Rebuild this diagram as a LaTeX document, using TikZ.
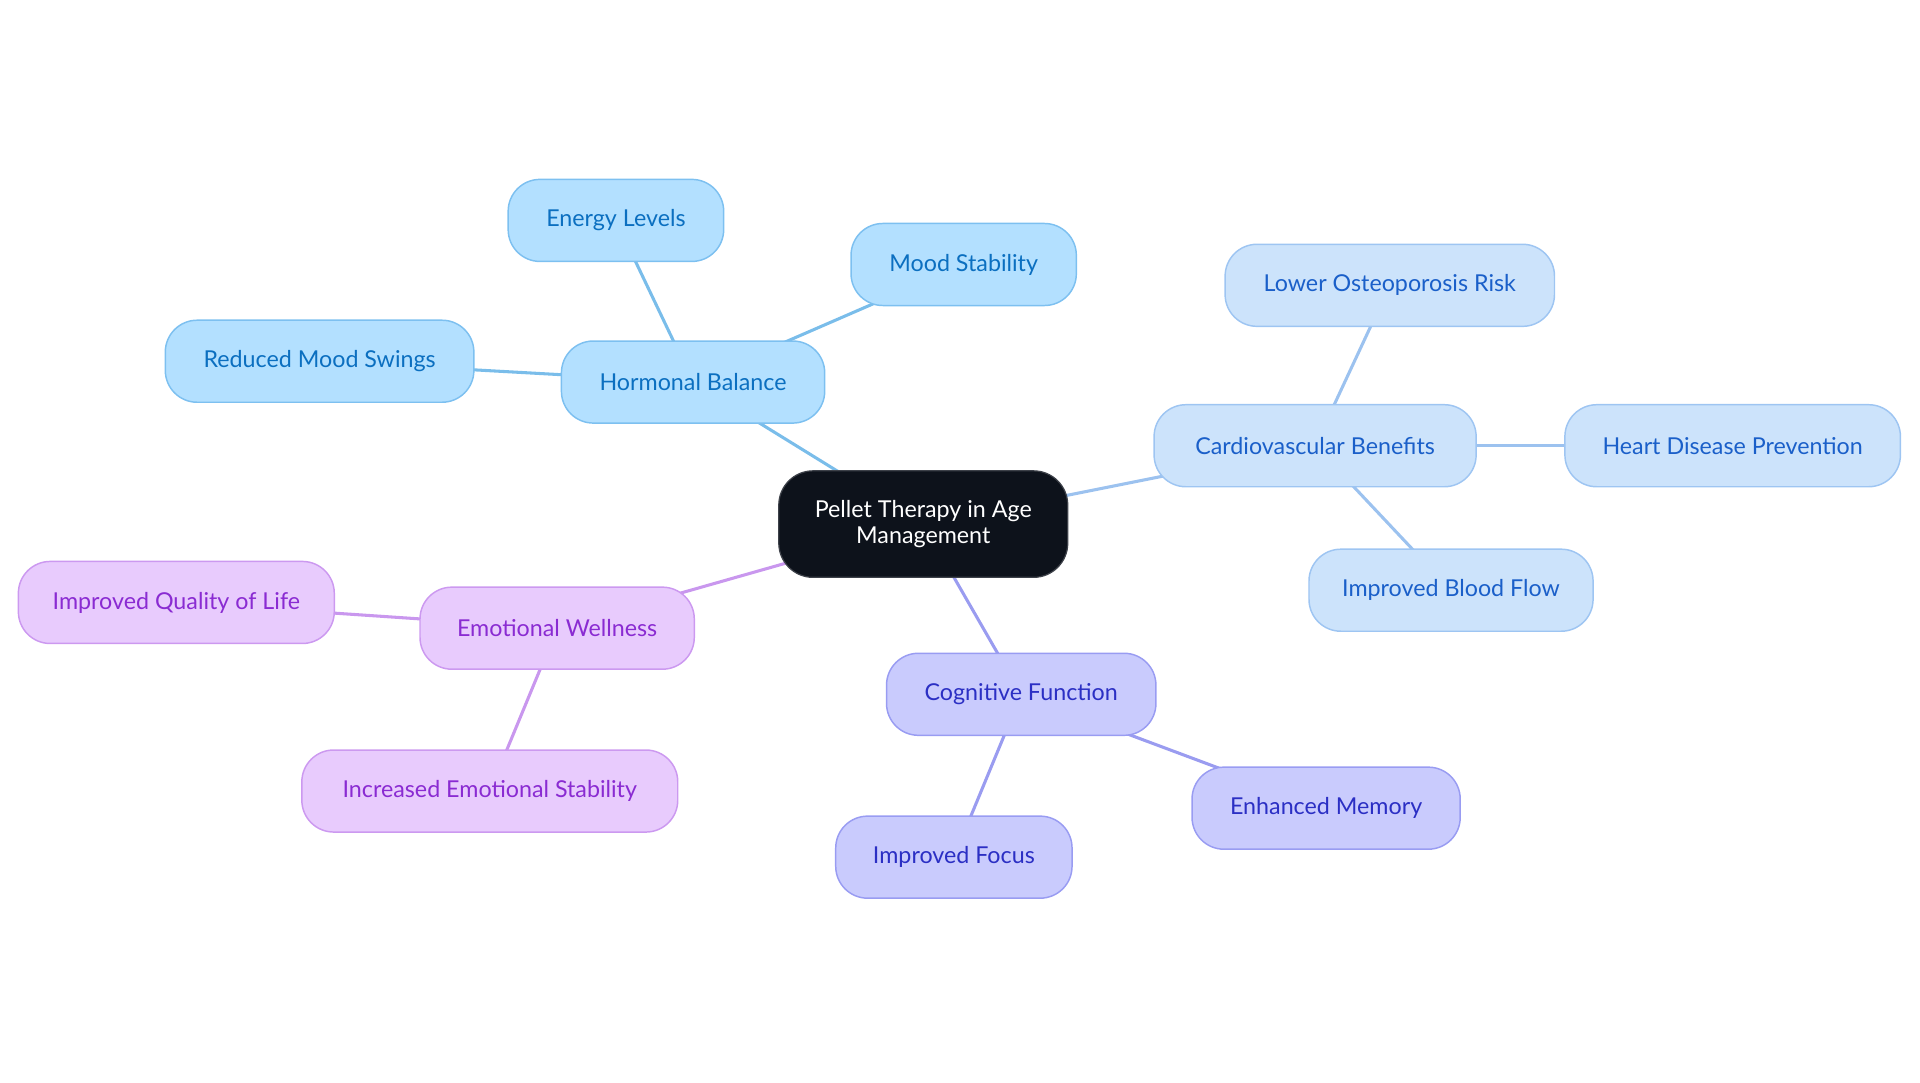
\documentclass[tikz,border=0pt]{standalone}
\usepackage{fontspec}
\setmainfont{Lato}
\usetikzlibrary{backgrounds}
\definecolor{rootfill}{HTML}{0D121B}
\definecolor{hbfill}{HTML}{B3E0FF}\definecolor{hbdraw}{HTML}{7DC0F0}\definecolor{hbtext}{HTML}{0B6FC0}\definecolor{hbedge}{HTML}{7ABDEA}
\definecolor{cvfill}{HTML}{CCE3FB}\definecolor{cvdraw}{HTML}{9EC5F2}\definecolor{cvtext}{HTML}{1A5FC9}\definecolor{cvedge}{HTML}{9CC2EF}
\definecolor{cffill}{HTML}{C9CBFD}\definecolor{cfdraw}{HTML}{999CF2}\definecolor{cftext}{HTML}{2B2FC4}\definecolor{cfedge}{HTML}{9A9CF0}
\definecolor{ewfill}{HTML}{E8CBFD}\definecolor{ewdraw}{HTML}{CC99F0}\definecolor{ewtext}{HTML}{8A2BD2}\definecolor{ewedge}{HTML}{C997EE}
\tikzset{
  box/.style={rectangle, rounded corners=26pt, minimum height=67pt, inner xsep=0pt, inner ysep=0pt, line width=1.2pt, font=\fontsize{19}{22}\selectfont},
  hb/.style={box, fill=hbfill, draw=hbdraw, text=hbtext},
  cv/.style={box, fill=cvfill, draw=cvdraw, text=cvtext},
  cf/.style={box, fill=cffill, draw=cfdraw, text=cftext},
  ew/.style={box, fill=ewfill, draw=ewdraw, text=ewtext},
  rootbox/.style={rectangle, rounded corners=28pt, fill=rootfill, draw=rootfill!80!white, line width=1pt, text=white, align=center, minimum width=236pt, minimum height=87pt, font=\fontsize{19}{21}\selectfont},
  edge/.style={line width=2.5pt}
}
\begin{document}
\begin{tikzpicture}[x=1pt,y=-1pt]
\useasboundingbox (0,0) rectangle (1568,884.4);
\node[rootbox] (root) at (754,428) {Pellet Therapy in Age\\Management};
\node[hb, minimum width=215pt] (hb) at (566,312) {Hormonal Balance};
\node[hb, minimum width=176pt] (el) at (503,180) {Energy Levels};
\node[hb, minimum width=184pt] (ms) at (787,216) {Mood Stability};
\node[hb, minimum width=252pt] (rms) at (261,295) {Reduced Mood Swings};
\node[cv, minimum width=263pt] (cv) at (1074,364) {Cardiovascular Benefits};
\node[cv, minimum width=269pt] (lor) at (1135,233) {Lower Osteoporosis Risk};
\node[cv, minimum width=274pt] (hdp) at (1415,364) {Heart Disease Prevention};
\node[cv, minimum width=232pt] (ibf) at (1185,482) {Improved Blood Flow};
\node[cf, minimum width=220pt] (cf) at (834,567) {Cognitive Function};
\node[cf, minimum width=219pt] (em) at (1083,660) {Enhanced Memory};
\node[cf, minimum width=193pt] (ifo) at (779,700) {Improved Focus};
\node[ew, minimum width=224pt] (ew) at (455,513) {Emotional Wellness};
\node[ew, minimum width=258pt] (iql) at (144,492) {Improved Quality of Life};
\node[ew, minimum width=307pt] (ies) at (400,646) {Increased Emotional Stability};
\begin{scope}[on background layer]
\draw[edge, hbedge] (root.center) -- (hb.center);
\draw[edge, hbedge] (hb.center) -- (el.center);
\draw[edge, hbedge] (hb.center) -- (ms.center);
\draw[edge, hbedge] (hb.center) -- (rms.center);
\draw[edge, cvedge] (root.center) -- (cv.center);
\draw[edge, cvedge] (cv.center) -- (lor.center);
\draw[edge, cvedge] (cv.center) -- (hdp.center);
\draw[edge, cvedge] (cv.center) -- (ibf.center);
\draw[edge, cfedge] (root.center) -- (cf.center);
\draw[edge, cfedge] (cf.center) -- (em.center);
\draw[edge, cfedge] (cf.center) -- (ifo.center);
\draw[edge, ewedge] (root.center) -- (ew.center);
\draw[edge, ewedge] (ew.center) -- (iql.center);
\draw[edge, ewedge] (ew.center) -- (ies.center);
\end{scope}
\end{tikzpicture}
\end{document}
